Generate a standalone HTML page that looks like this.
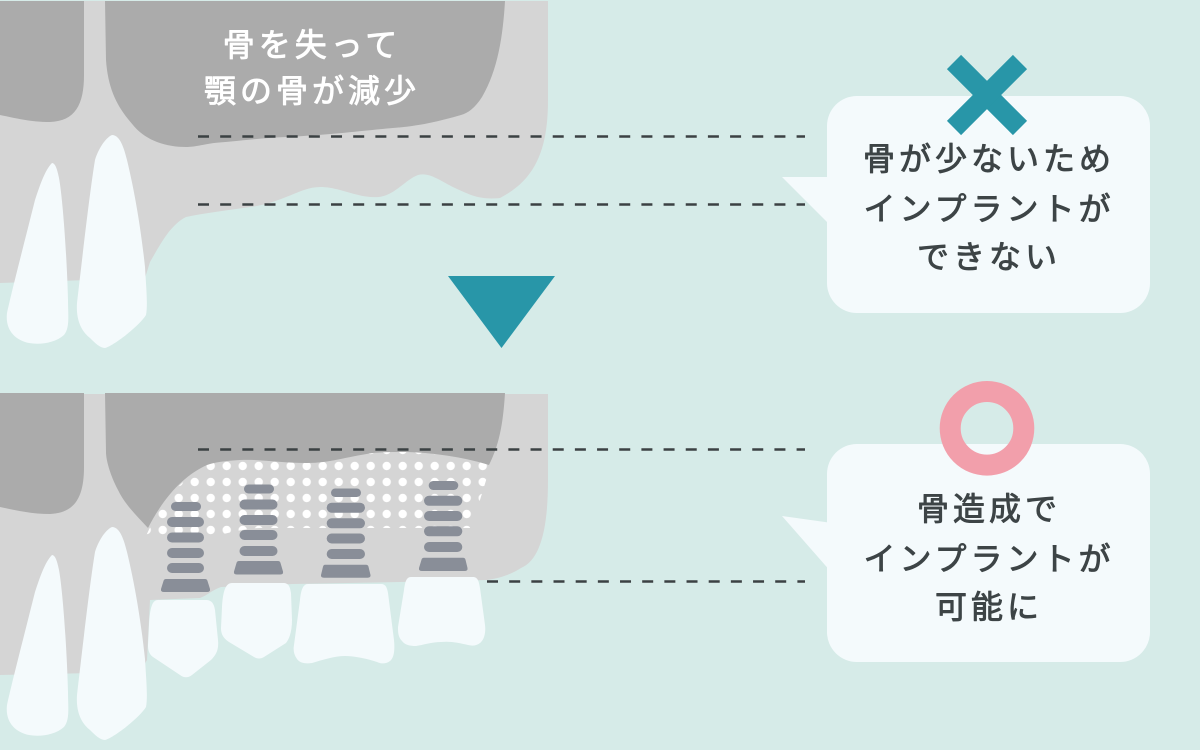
<!DOCTYPE html>
<html>
<head>
<meta charset="utf-8">
<style>
html,body{margin:0;padding:0;background:#d6ebe8;}
svg{display:block}
.t{font-family:"Liberation Sans","Noto Sans CJK JP",sans-serif;font-size:32px;letter-spacing:4px;stroke-width:0.9px;stroke-linejoin:round;}
.w{fill:#ffffff;stroke:#ffffff;}
.d{fill:#3d4446;stroke:#3d4446;}
</style>
</head>
<body>
<svg width="1200" height="750" viewBox="0 0 1200 750" xmlns="http://www.w3.org/2000/svg">
  <defs>
    <pattern id="dots" patternUnits="userSpaceOnUse" x="218.7" y="458" width="16" height="16">
      <circle cx="8" cy="8" r="4.2" fill="#ffffff"/>
    </pattern>
    <clipPath id="dotclip">
      <path d="M146,536 C160,505 175,485 207,463 C225,456 250,456 270,458 C290,460 300,460 310,459 C340,456 360,450 380,449 C400,448 420,449 440,450 C460,452 475,456 492,461 L480,500 L470,528 L260,528 C240,529 225,534 210,537 Z"/>
    </clipPath>
  </defs>

  <rect width="1200" height="750" fill="#d6ebe8"/>

  <!-- ===== TOP SECTION ===== -->
  <path fill="#d5d5d5" d="M0,1 H548 V100 C548,150 535,180 500,198 C480,200 470,195 455,188 C440,181 430,172 418,175 C405,180 395,195 379,197 C365,198 355,194 340,190 C325,186 315,186 304,190 C290,195 270,205 250,207 C230,210 205,213 186,217 C170,225 160,245 150,262 L145,278 L0,283 Z"/>
  <path fill="#ababab" d="M0,1 H84 V75 C84,105 75,121 50,122 C30,122 15,118 0,115 Z"/>
  <path fill="#ababab" d="M105,1 L505,1 C503,35 498,70 482,97 C475,108 468,113 461,115 C440,121 420,126 393,128 C360,131 330,135 286,137 C260,138 230,142 214,143 C200,145 195,147 186,147 C165,147 145,140 133,125 C118,108 108,90 106,60 Z"/>
  <path fill="#f4fafc" d="M52,163 C45,170 40,185 35,200 C25,240 12,290 7,313 C5,330 15,340 29,343 C40,345 55,343 64,335 C70,328 68,315 68,300 C67,260 63,200 59,178 C57,168 55,163 52,163 Z"/>
  <path fill="#f4fafc" d="M112,135 C105,138 98,150 95,160 C90,190 82,260 77,303 C76,318 80,330 90,338 C95,343 100,348 105,348 C115,345 140,325 146,315 C148,305 146,285 145,267 C140,220 133,185 127,160 C124,148 120,135 112,135 Z"/>

  <text class="t w" x="312" y="56" text-anchor="middle">骨を失って</text>
  <text class="t w" x="312" y="102" text-anchor="middle">顎の骨が減少</text>

  <line x1="198" y1="136.5" x2="805" y2="136.5" stroke="#3b4143" stroke-width="2.6" stroke-dasharray="11 11.17"/>
  <line x1="198" y1="204.5" x2="805" y2="204.5" stroke="#3b4143" stroke-width="2.6" stroke-dasharray="11 11.17"/>

  <!-- triangle -->
  <polygon points="448,276 555,276 501.5,348" fill="#2896a8"/>

  <!-- top bubble -->
  <polygon points="782,177 832,177 832,227" fill="#f4fafc"/>
  <rect x="827" y="96" width="323" height="217" rx="30" fill="#f4fafc"/>
  <g stroke="#2896a8" stroke-width="20" stroke-linecap="butt">
    <line x1="954" y1="62" x2="1020" y2="128"/>
    <line x1="1020" y1="62" x2="954" y2="128"/>
  </g>
  <text class="t d" x="989" y="170" text-anchor="middle">骨が少ないため</text>
  <text class="t d" x="989" y="220" text-anchor="middle">インプラントが</text>
  <text class="t d" x="989" y="268" text-anchor="middle">できない</text>

  <!-- ===== BOTTOM SECTION ===== -->
  <path fill="#d5d5d5" d="M0,394 H548 V480 C548,530 540,560 521,568 C510,575 500,578 487,580 L400,582 L293,584 L221,587 C212,590 208,595 200,598 L150,600 L147,660 L140,672 L0,675 Z"/>
  <rect x="140" y="440" width="360" height="100" fill="url(#dots)" clip-path="url(#dotclip)"/>
  <path fill="#ababab" d="M0,393 H84 V467 C84,497 75,513 50,514 C30,514 15,510 0,507 Z"/>
  <path fill="#ababab" d="M105,393 L505,393 C503,425 499,445 489,465 C470,459 440,453 407,452 C390,452 385,452 373,453 C345,457 330,463 307,463 C280,463 260,459 240,460 C225,461 215,462 207,465 C185,475 165,495 148,528 C138,517 125,505 118,490 C110,475 106,460 106,452 Z"/>

  <g transform="translate(0,392)">
    <path fill="#f4fafc" d="M52,163 C45,170 40,185 35,200 C25,240 12,290 7,313 C5,330 15,340 29,343 C40,345 55,343 64,335 C70,328 68,315 68,300 C67,260 63,200 59,178 C57,168 55,163 52,163 Z"/>
    <path fill="#f4fafc" d="M112,135 C105,138 98,150 95,160 C90,190 82,260 77,303 C76,318 80,330 90,338 C95,343 100,348 105,348 C115,345 140,325 146,315 C148,305 146,285 145,267 C140,220 133,185 127,160 C124,148 120,135 112,135 Z"/>
  </g>

  <!-- crowns -->
  <path fill="#f4fafc" d="M158,600 L206,600 C212,600 214,604 215,610 L218,640 C219,650 216,655 211,660 L192,675 C188,678 184,678 180,675 L153,657 C149,654 148,650 148,645 L149,625 C150,608 152,600 158,600 Z"/>
  <path fill="#f4fafc" d="M232,583 L283,583 C289,583 290,587 291,593 L292,620 C292,630 290,638 286,643 L264,657 C261,659 257,659 254,657 L229,642 C223,638 221,634 221,628 L222,607 C223,590 226,583 232,583 Z"/>
  <path fill="#f4fafc" d="M308,584 L381,584 C386,584 387,588 388,593 L394,640 C395,650 394,658 390,661 C386,664 381,664 377,662 C368,659 355,656 345,656 C335,656 322,660 312,663 C305,664 300,663 297,659 C294,655 293,650 294,645 L300,600 C301,590 303,584 308,584 Z"/>
  <path fill="#f4fafc" d="M411,577 L473,577 C478,577 479,582 480,588 L485,625 C486,633 484,640 480,643 C476,646 472,646 468,645 C460,643 450,641 441,642 C432,642 423,645 416,646 C410,646 405,645 402,641 C398,637 398,632 398,627 L404,590 C405,583 406,577 411,577 Z"/>

  <!-- implants -->
  <g fill="#898e98">
    <rect x="171" y="502" width="30" height="9" rx="4.5"/>
    <rect x="167" y="517" width="37" height="10" rx="5"/>
    <rect x="167" y="532.5" width="37" height="10" rx="5"/>
    <rect x="167" y="548" width="37" height="10" rx="5"/>
    <rect x="167" y="563" width="37" height="10" rx="5"/>
    <path d="M166,579 L205,579 Q207,579 207.5,581 L210,589 Q210.5,592 207,592 L164,592 Q160.5,592 161,589 L163.5,581 Q164,579 166,579 Z"/>

    <rect x="244" y="484.5" width="30" height="9" rx="4.5"/>
    <rect x="239.5" y="499.5" width="38" height="10" rx="5"/>
    <rect x="239.5" y="515" width="38" height="10" rx="5"/>
    <rect x="239.5" y="530" width="38" height="10" rx="5"/>
    <rect x="239.5" y="546" width="38" height="10" rx="5"/>
    <path d="M239,561 L278,561 Q280,561 280.5,563 L283,571.5 Q283.5,574.5 280,574.5 L237,574.5 Q233.5,574.5 234,571.5 L236.5,563 Q237,561 239,561 Z"/>

    <rect x="331" y="488.5" width="30" height="8.5" rx="4.2"/>
    <rect x="326.7" y="502.7" width="38.3" height="10" rx="5"/>
    <rect x="326.7" y="518.3" width="38.3" height="10" rx="5"/>
    <rect x="326.7" y="533.5" width="38.3" height="10" rx="5"/>
    <rect x="326.7" y="549" width="38.3" height="10" rx="5"/>
    <path d="M325,564.7 L366,564.7 Q368,564.7 368.5,566.7 L370.5,575 Q371,577.7 367.5,577.7 L324,577.7 Q320.5,577.7 321,575 L323,566.7 Q323.5,564.7 325,564.7 Z"/>

    <rect x="428.7" y="481" width="29.6" height="9" rx="4.5"/>
    <rect x="424" y="495.8" width="38.3" height="10" rx="5"/>
    <rect x="424" y="511" width="38.3" height="10" rx="5"/>
    <rect x="424" y="526.3" width="38.3" height="10" rx="5"/>
    <rect x="424" y="542" width="38.3" height="10" rx="5"/>
    <path d="M424,557.7 L463,557.7 Q465,557.7 465.5,559.7 L467.5,568 Q468,571 464.5,571 L422,571 Q418.5,571 419,568 L421.5,559.7 Q422,557.7 424,557.7 Z"/>
  </g>

  <line x1="198" y1="449.5" x2="805" y2="449.5" stroke="#3b4143" stroke-width="2.6" stroke-dasharray="11 11.17"/>
  <line x1="487" y1="581.5" x2="805" y2="581.5" stroke="#3b4143" stroke-width="2.6" stroke-dasharray="11 11.17"/>

  <!-- bottom bubble -->
  <polygon points="782,516 832,523 832,573" fill="#f4fafc"/>
  <rect x="827" y="444" width="323" height="218" rx="30" fill="#f4fafc"/>
  <circle cx="987" cy="428.3" r="36.8" fill="none" stroke="#f29fab" stroke-width="21"/>
  <text class="t d" x="989" y="520" text-anchor="middle">骨造成で</text>
  <text class="t d" x="989" y="570" text-anchor="middle">インプラントが</text>
  <text class="t d" x="989" y="618" text-anchor="middle">可能に</text>
</svg>
</body>
</html>
